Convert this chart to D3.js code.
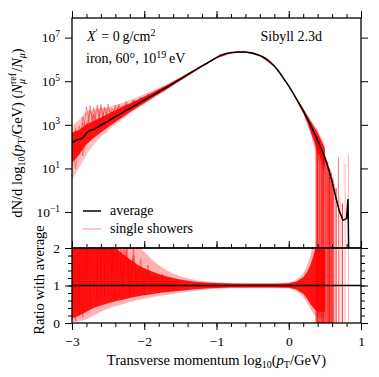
<!DOCTYPE html>
<html>
<head>
<meta charset="utf-8">
<script src="https://cdn.jsdelivr.net/npm/d3@7"></script>
<style>
  body { margin: 0; background: #fff; }
  text { font-family: "Liberation Serif", "DejaVu Serif", serif; fill: #000; }
</style>
</head>
<body>
<svg id="chart"></svg>
<script>
// average spectrum, log10 of dN/dlog10(pT) per bin
const avgX = [-3.00, -2.95, -2.90, -2.85, -2.80, -2.75, -2.70, -2.65, -2.60, -2.55,
  -2.50, -2.45, -2.40, -2.35, -2.30, -2.25, -2.20, -2.15, -2.10, -2.05,
  -2.00, -1.95, -1.90, -1.85, -1.80, -1.75, -1.70, -1.65, -1.60, -1.55,
  -1.50, -1.45, -1.40, -1.35, -1.30, -1.25, -1.20, -1.15, -1.10, -1.05,
  -1.00, -0.95, -0.90, -0.85, -0.80, -0.75, -0.70, -0.65, -0.60, -0.55,
  -0.50, -0.45, -0.40, -0.35, -0.30, -0.25, -0.20, -0.15, -0.10, -0.05,
  0.00, 0.05, 0.10, 0.15, 0.20, 0.25, 0.30, 0.35, 0.40, 0.45,
  0.50, 0.55, 0.60, 0.65, 0.70, 0.75, 0.80, 0.82, 0.83];
const avgLog = [2.17, 2.28, 2.34, 2.40, 2.62, 2.74, 2.79, 2.88, 2.98, 3.08,
  3.17, 3.27, 3.37, 3.47, 3.56, 3.66, 3.75, 3.85, 3.94, 4.04,
  4.13, 4.23, 4.32, 4.42, 4.51, 4.61, 4.70, 4.80, 4.90, 5.00,
  5.10, 5.20, 5.30, 5.40, 5.50, 5.60, 5.70, 5.79, 5.89, 5.99,
  6.08, 6.18, 6.24, 6.28, 6.31, 6.33, 6.34, 6.345, 6.34, 6.32,
  6.29, 6.24, 6.18, 6.10, 6.00, 5.86, 5.70, 5.50, 5.27, 5.03,
  4.78, 4.51, 4.23, 3.94, 3.65, 3.33, 3.00, 2.65, 2.28, 1.90,
  1.50, 0.98, 0.40, -0.30, -0.95, -1.38, -1.30, -0.40, -3.50];

// spread of the single showers, as ratio to the average
const bandX = [-3.0, -2.9, -2.8, -2.7, -2.6, -2.5, -2.4, -2.3, -2.2, -2.1,
  -2.0, -1.9, -1.8, -1.7, -1.6, -1.5, -1.4, -1.3, -1.2, -1.1,
  -1.0, -0.8, -0.6, -0.4, -0.2, 0.0, 0.1, 0.2, 0.25, 0.3, 0.35, 0.4, 0.45, 0.5];
const coreLo = [0.12, 0.20, 0.30, 0.40, 0.47, 0.53, 0.58, 0.62, 0.67, 0.71,
  0.74, 0.77, 0.80, 0.82, 0.84, 0.86, 0.88, 0.90, 0.915, 0.925,
  0.935, 0.945, 0.95, 0.95, 0.95, 0.94, 0.90, 0.78, 0.66, 0.50, 0.38, 0.30, 0.30, 0.30];
const coreHi = [3.0, 2.7, 2.5, 2.4, 2.3, 2.2, 2.0, 1.85, 1.70, 1.56,
  1.46, 1.38, 1.31, 1.25, 1.20, 1.16, 1.13, 1.10, 1.085, 1.075,
  1.065, 1.055, 1.05, 1.05, 1.05, 1.06, 1.10, 1.22, 1.35, 1.55, 1.85, 2.3, 2.5, 2.5];
const outerLo = [0.02, 0.05, 0.10, 0.20, 0.30, 0.38, 0.45, 0.50, 0.56, 0.61,
  0.65, 0.69, 0.72, 0.75, 0.78, 0.81, 0.84, 0.86, 0.88, 0.90,
  0.91, 0.925, 0.93, 0.93, 0.93, 0.92, 0.86, 0.70, 0.55, 0.38, 0.22, 0.15, 0.15, 0.15];
const outerHi = [6, 8, 10, 8, 6, 4.5, 3.5, 2.8, 2.4, 2.1,
  1.9, 1.7, 1.55, 1.42, 1.32, 1.25, 1.19, 1.15, 1.12, 1.10,
  1.085, 1.07, 1.065, 1.065, 1.07, 1.08, 1.14, 1.32, 1.5, 1.8, 2.3, 3.2, 3.5, 3.5];

// a few single showers at low pT (ratio to average)
const showerX = [-3.00, -2.95, -2.90, -2.85, -2.80, -2.75, -2.70, -2.65, -2.60, -2.55,
  -2.50, -2.45, -2.40, -2.35, -2.30, -2.25, -2.20, -2.15, -2.10, -2.05,
  -2.00, -1.95, -1.90, -1.85, -1.80, -1.75, -1.70, -1.65, -1.60, -1.55, -1.50];
const showerA = [0.4, 1.8, 0.6, 9.0, 1.2, 14.0, 0.9, 7.5, 1.1, 4.2, 0.8, 3.1, 1.3, 2.4, 0.9, 1.9,
  1.1, 1.7, 0.85, 1.5, 1.1, 1.35, 0.9, 1.3, 1.05, 1.2, 0.92, 1.18, 1.0, 1.12, 0.97];
const showerB = [2.5, 0.3, 4.0, 1.0, 16.0, 1.5, 10.0, 1.2, 6.5, 0.7, 3.8, 1.4, 2.6, 0.8, 2.1, 1.2,
  1.6, 0.9, 1.45, 0.8, 1.35, 1.0, 1.25, 0.88, 1.2, 0.95, 1.15, 0.9, 1.1, 0.94, 1.08];
const showerC = [0.08, 3.5, 0.2, 5.0, 0.5, 8.0, 2.5, 11.0, 0.7, 5.5, 1.6, 2.2, 0.6, 3.0, 1.0, 2.0,
  0.7, 1.8, 1.2, 1.3, 0.75, 1.55, 1.0, 1.2, 0.8, 1.3, 1.0, 1.1, 0.85, 1.15, 1.0];
const showerD = [1.2, 0.05, 1.5, 0.15, 3.0, 0.4, 5.0, 0.6, 9.0, 1.0, 6.0, 0.9, 3.5, 1.6, 1.2, 2.6,
  0.8, 2.0, 1.0, 1.7, 0.9, 1.3, 1.15, 1.0, 1.3, 0.9, 1.2, 1.0, 0.9, 1.1, 1.0];
const showers = [showerA, showerB, showerC, showerD];

// high-pT bins where single showers drop to zero muons
const zeroX = [0.375, 0.386, 0.397, 0.408, 0.42, 0.432, 0.444, 0.456, 0.468, 0.48,
  0.492, 0.504, 0.516, 0.528, 0.54, 0.552, 0.564, 0.576, 0.588, 0.60,
  0.612, 0.625, 0.655, 0.688, 0.71, 0.742, 0.78, 0.825];
const zeroTop = [2.6, 2.4, 2.5, 2.3, 2.2, 2.3, 2.0, 2.0, 1.8, 1.7,
  1.7, 1.5, 1.4, 1.3, 1.3, 1.1, 1.0, 0.9, 0.8, 0.6,
  0.5, 0.3, 0.1, 1.5, -0.3, -0.6, 1.2, 1.65];
const zeroAlpha = [0.5, 0.7, 0.9, 0.6, 0.9, 0.8, 0.7, 0.9, 0.8, 0.9,
  0.6, 0.9, 0.8, 0.7, 0.9, 0.8, 0.9, 0.7, 0.9, 0.8,
  0.9, 0.7, 0.9, 0.5, 0.35, 0.85, 0.3, 0.3];

const xTicks = [-3, -2, -1, 0, 1];
const xMinor = d3.range(-3, 1.001, 0.2);
const yTickExp = [-1, 1, 3, 5, 7];
const ratioTicks = [0, 1, 2];
const ratioMinor = d3.range(0, 2.001, 0.2);

// layout
const W = 379, H = 377;
const pL = 72, pR = 361, pT = 18, pM = 248, pB = 323;
const red = "#ff0000";

const svg = d3.select("#chart").attr("width", W).attr("height", H);

const x = d3.scaleLinear().domain([-3, 1]).range([pL, pR]);
const y = d3.scaleLog().domain([Math.pow(10, -2.65), Math.pow(10, 7.9)]).range([pM, pT]);
const yR = d3.scaleLinear().domain([0, 2]).range([pB, pM]);

const avgAt = new Map(avgX.map((v, i) => [v.toFixed(2), avgLog[i]]));
const avgOf = v => Math.pow(10, avgAt.get(v.toFixed(2)));

const defs = svg.append("defs");
defs.append("clipPath").attr("id", "clipTop").append("rect")
  .attr("x", pL).attr("y", pT).attr("width", pR - pL).attr("height", pM - pT);
defs.append("clipPath").attr("id", "clipBot").append("rect")
  .attr("x", pL).attr("y", pM).attr("width", pR - pL).attr("height", pB - pM);

const gTop = svg.append("g").attr("clip-path", "url(#clipTop)");
const gBot = svg.append("g").attr("clip-path", "url(#clipBot)");

const band = bandX.map((v, i) => ({ x: v, lo: coreLo[i], hi: coreHi[i], olo: outerLo[i], ohi: outerHi[i] }));

// top panel: spread of single showers
gTop.append("path").datum(band)
  .attr("fill", red).attr("fill-opacity", 0.25)
  .attr("d", d3.area().x(d => x(d.x)).y0(d => y(avgOf(d.x) * d.olo)).y1(d => y(avgOf(d.x) * d.ohi)));
gTop.append("path").datum(band)
  .attr("fill", red).attr("fill-opacity", 0.9)
  .attr("d", d3.area().x(d => x(d.x)).y0(d => y(avgOf(d.x) * d.lo)).y1(d => y(avgOf(d.x) * d.hi)));

// bottom panel: same spread as ratio
gBot.append("path").datum(band)
  .attr("fill", red).attr("fill-opacity", 0.3)
  .attr("d", d3.area().x(d => x(d.x)).y0(d => yR(d.olo)).y1(d => yR(d.ohi)));
gBot.append("path").datum(band)
  .attr("fill", red).attr("fill-opacity", 0.9)
  .attr("d", d3.area().x(d => x(d.x)).y0(d => yR(d.lo)).y1(d => yR(d.hi)));

// individual showers
showers.forEach(s => {
  const pts = showerX.map((v, i) => ({ x: v, r: s[i] }));
  gTop.append("path").datum(pts)
    .attr("fill", "none").attr("stroke", red).attr("stroke-opacity", 0.4).attr("stroke-width", 1)
    .attr("d", d3.line().x(d => x(d.x)).y(d => y(avgOf(d.x) * d.r)));
  gBot.append("path").datum(pts)
    .attr("fill", "none").attr("stroke", red).attr("stroke-opacity", 0.4).attr("stroke-width", 1)
    .attr("d", d3.line().x(d => x(d.x)).y(d => yR(d.r)));
});

// zero bins: vertical drops
const zeros = zeroX.map((v, i) => ({ x: v, top: zeroTop[i], a: zeroAlpha[i] }));
gTop.selectAll(".zero").data(zeros).enter().append("line")
  .attr("x1", d => x(d.x)).attr("x2", d => x(d.x))
  .attr("y1", d => y(Math.pow(10, d.top))).attr("y2", pM)
  .attr("stroke", red).attr("stroke-opacity", d => d.a).attr("stroke-width", 1);
gBot.selectAll(".zero").data(zeros).enter().append("line")
  .attr("x1", d => x(d.x)).attr("x2", d => x(d.x))
  .attr("y1", yR(0)).attr("y2", yR(2))
  .attr("stroke", red).attr("stroke-opacity", d => d.a).attr("stroke-width", 1);

// average
gTop.append("path").datum(avgX.map((v, i) => ({ x: v, v: avgLog[i] })))
  .attr("fill", "none").attr("stroke", "#000").attr("stroke-width", 1.5)
  .attr("d", d3.line().x(d => x(d.x)).y(d => Math.min(y(Math.pow(10, d.v)), pM + 5)));
gBot.append("line")
  .attr("x1", pL).attr("x2", pR).attr("y1", yR(1)).attr("y2", yR(1))
  .attr("stroke", "#000").attr("stroke-width", 1.5);

// axes
function addAxis(axis, tr, vals, size, fmt, pad) {
  const g = svg.append("g").attr("transform", tr)
    .call(axis.tickValues(vals).tickSize(size).tickSizeOuter(0).tickPadding(pad || 4)
      .tickFormat(fmt || (() => "")));
  g.select(".domain").remove();
  g.attr("font-family", null).attr("font-size", 13.5);
  g.selectAll("line").attr("stroke-width", 1);
  return g;
}
const minus = v => (v < 0 ? "\u2212" : "") + Math.abs(v);

addAxis(d3.axisTop(x), `translate(0,${pT})`, xMinor, 4);
addAxis(d3.axisTop(x), `translate(0,${pT})`, xTicks, 7);
addAxis(d3.axisTop(x), `translate(0,${pM})`, xMinor, 4);
addAxis(d3.axisTop(x), `translate(0,${pM})`, xTicks, 7);
addAxis(d3.axisBottom(x), `translate(0,${pB})`, xMinor, 4);
addAxis(d3.axisBottom(x), `translate(0,${pB})`, xTicks, 7, minus, 6);

const yVals = yTickExp.map(e => Math.pow(10, e));
const gy = addAxis(d3.axisLeft(y), `translate(${pL},0)`, yVals, 7, () => "10", 5);
gy.selectAll(".tick text").each(function(d) {
  const e = Math.round(Math.log10(d));
  d3.select(this).append("tspan").attr("font-size", 9.5).attr("dy", "-0.55em").text(minus(e));
});
addAxis(d3.axisRight(y), `translate(${pR},0)`, yVals, 7);

addAxis(d3.axisLeft(yR), `translate(${pL},0)`, ratioMinor, 4);
addAxis(d3.axisLeft(yR), `translate(${pL},0)`, ratioTicks, 7, d => d, 5);
addAxis(d3.axisRight(yR), `translate(${pR},0)`, ratioMinor, 4);
addAxis(d3.axisRight(yR), `translate(${pR},0)`, ratioTicks, 7);

// frames
[[pT, pM], [pM, pB]].forEach(([a, b]) => {
  svg.append("rect").attr("x", pL).attr("y", a).attr("width", pR - pL).attr("height", b - a)
    .attr("fill", "none").attr("stroke", "#000").attr("stroke-width", 1.3);
});

// annotations
const fs = 14;
const t1 = svg.append("text").attr("x", 87).attr("y", 41).attr("font-size", fs);
t1.append("tspan").attr("font-style", "italic").text("X");
t1.append("tspan").attr("dy", -5).attr("font-size", 10).text("\u2032");
t1.append("tspan").attr("dy", 5).text(" = 0\u2009g/cm");
t1.append("tspan").attr("dy", -5).attr("font-size", 10).text("2");

const t2 = svg.append("text").attr("x", 86).attr("y", 63).attr("font-size", fs);
t2.append("tspan").text("iron, 60\u00b0, 10");
t2.append("tspan").attr("dy", -5).attr("font-size", 10).text("19");
t2.append("tspan").attr("dy", 5).text("\u2009eV");

svg.append("text").attr("x", 322).attr("y", 41).attr("font-size", fs)
  .attr("text-anchor", "end").text("Sibyll 2.3d");

// legend
const legend = [
  { label: "average", color: "#000", op: 1, w: 1.5, y: 211 },
  { label: "single showers", color: red, op: 0.3, w: 1.5, y: 229 }
];
legend.forEach(l => {
  svg.append("line").attr("x1", 83).attr("x2", 101).attr("y1", l.y).attr("y2", l.y)
    .attr("stroke", l.color).attr("stroke-opacity", l.op).attr("stroke-width", l.w);
  svg.append("text").attr("x", 110).attr("y", l.y + 4).attr("font-size", fs).text(l.label);
});

// axis labels
const ls = 14.5, ss = 10;
const xl = svg.append("text").attr("x", (pL + pR) / 2).attr("y", 365)
  .attr("text-anchor", "middle").attr("font-size", ls);
xl.append("tspan").text("Transverse momentum log");
xl.append("tspan").attr("dy", 3).attr("font-size", ss).text("10");
xl.append("tspan").attr("dy", -3).text("(");
xl.append("tspan").attr("font-style", "italic").text("p");
xl.append("tspan").attr("dy", 3).attr("font-size", ss).text("T");
xl.append("tspan").attr("dy", -3).text("/GeV)");

const yl = svg.append("text").attr("transform", "translate(22,133) rotate(-90)")
  .attr("text-anchor", "middle").attr("font-size", ls);
yl.append("tspan").text("dN/d log");
yl.append("tspan").attr("dy", 3).attr("font-size", ss).text("10");
yl.append("tspan").attr("dy", -3).text("(");
yl.append("tspan").attr("font-style", "italic").text("p");
yl.append("tspan").attr("dy", 3).attr("font-size", ss).text("T");
yl.append("tspan").attr("dy", -3).text("/GeV) (");
yl.append("tspan").attr("font-style", "italic").text("N");
yl.append("tspan").attr("dy", 3).attr("font-size", ss).attr("font-style", "italic").text("\u03bc");
yl.append("tspan").attr("dy", -9).attr("dx", -5).attr("font-size", ss).text("ref");
yl.append("tspan").attr("dy", 6).attr("dx", 1).text("/");
yl.append("tspan").attr("font-style", "italic").text("N");
yl.append("tspan").attr("dy", 3).attr("font-size", ss).attr("font-style", "italic").text("\u03bc");
yl.append("tspan").attr("dy", -3).text(")");

svg.append("text").attr("transform", "translate(44,280) rotate(-90)")
  .attr("text-anchor", "middle").attr("font-size", ls).text("Ratio with average");
</script>
</body>
</html>
